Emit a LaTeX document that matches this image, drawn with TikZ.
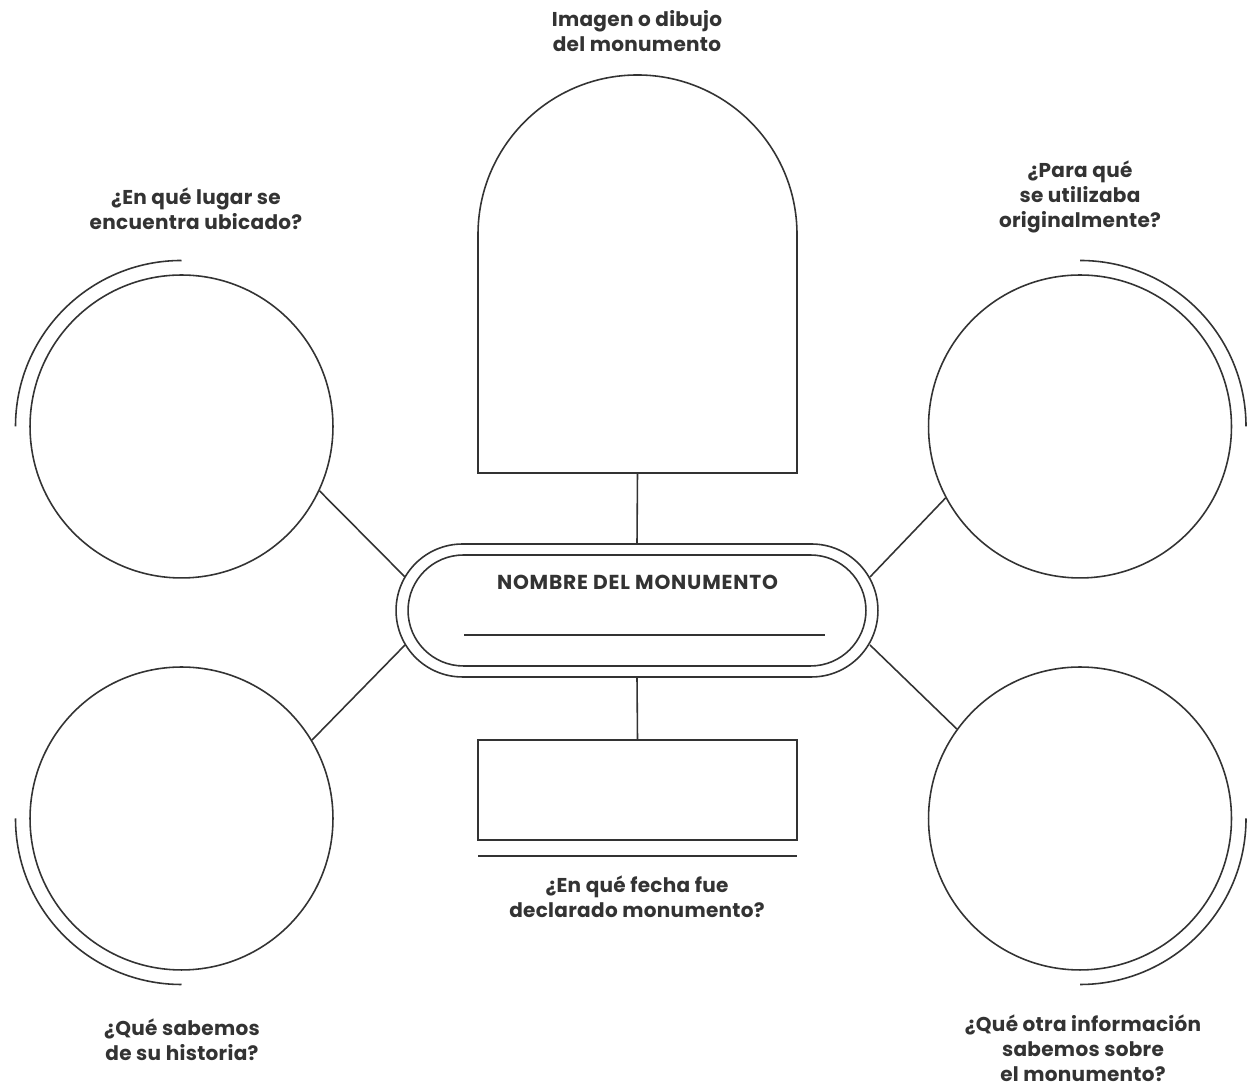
\documentclass[tikz,border=0pt]{standalone}
\usepackage{fontspec}
\setmainfont{Poppins}
\definecolor{ink}{HTML}{333333}
\begin{document}
\begin{tikzpicture}[x=0.02cm,y=0.02cm,
  line/.style={draw=ink, line width=0.9pt},
  bubble/.style={circle, line, minimum size=6.06cm, inner sep=0pt},
  lbl/.style={text=ink, font=\bfseries\fontsize{11.4}{14.2}\selectfont\addfontfeatures{LetterSpace=1.5}, align=center},
  box/.style={line, rectangle, inner sep=0pt}]
\useasboundingbox[fill=white] (0,0) rectangle (1248,1088);

% arch
\draw[line] (478,615) -- (478,853.5) arc[start angle=180, end angle=0, radius=159.5] -- (797,615) -- cycle;
\coordinate (archb) at (637.5,615);

% stadium
\node[box, rounded corners=1.33cm, minimum width=9.64cm, minimum height=2.66cm] (outer) at (637,477.5) {};
\node[box, rounded corners=1.11cm, minimum width=9.16cm, minimum height=2.22cm] (inner) at (637,477.5) {};
\node[text=ink, font=\bfseries\fontsize{11.5}{14}\selectfont\addfontfeatures{LetterSpace=4}] (name) at (637.5,506) {NOMBRE DEL MONUMENTO};
\coordinate (ul1) at (464,453);
\coordinate (ul2) at (825,453);
\draw[line] (ul1) -- (ul2);

% date box
\node[box, minimum width=6.38cm, minimum height=2cm] (date) at (637.5,298) {};
\coordinate (dl1) at (478,232);
\coordinate (dl2) at (797,232);
\draw[line] (dl1) -- (dl2);

% circles
\node[bubble] (tl) at (181.5,661.5) {};
\node[bubble] (tr) at (1080,661.5) {};
\node[bubble] (bl) at (181.5,269.5) {};
\node[bubble] (br) at (1080,269.5) {};
\draw[line] (181.5,827.5) arc[start angle=90, end angle=180, radius=166];
\draw[line] (1080,827.5) arc[start angle=90, end angle=0, radius=166];
\draw[line] (15.5,269.5) arc[start angle=180, end angle=270, radius=166];
\draw[line] (1246,269.5) arc[start angle=0, end angle=-90, radius=166];

% connectors
\coordinate (sTL) at (405,511);
\coordinate (sBL) at (405,443);
\coordinate (sTR) at (870,511);
\coordinate (sBR) at (870,443);
\draw[line] (sTL) -- (tl.-25.1);
\draw[line] (sBL) -- (bl.31.5);
\draw[line] (sTR) -- (tr.208.9);
\draw[line] (sBR) -- (br.144.8);
\draw[line] (archb) -- (outer.north);
\draw[line] (outer.south) -- (date.north);

% labels
\node[lbl] (l1) at (637,1056.5) {Imagen o dibujo\\del monumento};
\node[lbl] (l2) at (196,879) {¿En qué lugar se\\encuentra ubicado?};
\node[lbl] (l3) at (1080,891) {¿Para qué\\se utilizaba\\originalmente?};
\node[lbl] (l4) at (182,48) {¿Qué sabemos\\de su historia?};
\node[lbl] (l5) at (1083,39.5) {¿Qué otra información\\sabemos sobre\\el monumento?};
\node[lbl] (l6) at (637,191.5) {¿En qué fecha fue\\declarado monumento?};
\end{tikzpicture}
\end{document}
